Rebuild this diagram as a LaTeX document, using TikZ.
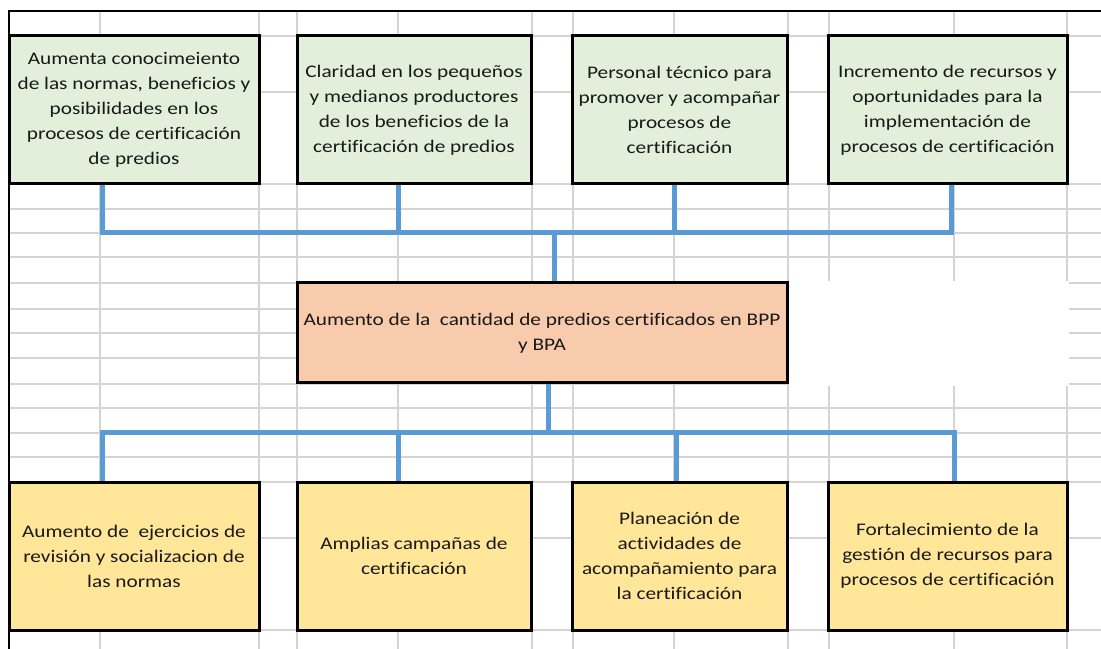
\documentclass[tikz,border=0pt]{standalone}
\usepackage{fontspec}
\setmainfont{Carlito}[FakeStretch=1.2, Ligatures=NoCommon]
\usetikzlibrary{backgrounds}

\definecolor{verde}{RGB}{226,239,218}
\definecolor{salmon}{RGB}{248,203,173}
\definecolor{amarillo}{RGB}{255,230,153}
\definecolor{azul}{RGB}{91,155,213}
\definecolor{gris}{RGB}{212,212,212}

\begin{document}
\begin{tikzpicture}[x=0.75pt, y=-0.75pt,
  every caja/.style={draw=black, line width=2.25pt, inner sep=0pt, outer sep=0pt,
    align=center, text=black!90, font=\fontsize{13.3pt}{18.75pt}\selectfont},
  caja fin/.style={fill=verde, minimum height=148*0.75pt},
  caja medio/.style={fill=amarillo, minimum height=148*0.75pt},
  caja objetivo/.style={fill=salmon, minimum height=100*0.75pt},
  enlace/.style={draw=azul, line width=3.75pt},
  rejilla/.style={draw=gris, line width=1.2pt},
  borde/.style={draw=black, line width=1.9pt}]

\useasboundingbox (0,0) rectangle (1101,649);

\foreach \texto/\cx/\w [count=\i] in {
    {Aumenta conocimeiento\\de las normas, beneficios y\\posibilidades en los\\procesos de certificación\\de predios}/134/250,
    {Claridad en los pequeños\\y medianos productores\\de los beneficios de la\\certificación de predios}/414/234,
    {Personal técnico para\\promover y acompañar\\procesos de\\certificación}/679.5/215,
    {Incremento de recursos y\\oportunidades para la\\implementación de\\procesos de certificación}/947.5/239}
  \node [every caja, caja fin, minimum width=\w*0.75pt] (fin-\i) at (\cx,110) {\texto};

\node [every caja, caja objetivo, minimum width=490*0.75pt] (objetivo) at (542,333)
  {Aumento de la~ cantidad de predios certificados en BPP\\y BPA};

\foreach \texto/\cx/\w [count=\i] in {
    {Aumento de~ ejercicios de\\revisión y socializacion de\\las normas}/134/250,
    {Amplias campañas de\\certificación}/414/234,
    {Planeación de\\actividades de\\acompañamiento para\\la certificación}/679.5/215,
    {Fortalecimiento de la\\gestión de recursos para\\procesos de certificación}/947.5/239}
  \node [every caja, caja medio, minimum width=\w*0.75pt] (medio-\i) at (\cx,556) {\texto};

\foreach \i/\x in {1/102,2/398,3/674,4/951}
  \coordinate (alto-\i) at (\x,233);
\foreach \i/\x in {1/102,2/398,3/676,4/954}
  \coordinate (bajo-\i) at (\x,432);
\coordinate (eje-alto) at (554,233);
\coordinate (eje-bajo) at (548,432);

\begin{pgfonlayer}{background}
% rejilla de la hoja
\foreach \x in {100,259,297,398,532,573,674,788,829,954,1067}
  \draw [rejilla] (\x,11) -- (\x,649);
\foreach \y in {36,92,184,209,233,257,283,309,333,358,384,408,433,457,482,538,630}
  \draw [rejilla] (9,\y) -- (1101,\y);
\fill [white] (789,281) rectangle (1068.5,386);
\draw [borde] (9,649) -- (9,11) -- (1101,11);

% conectores
\draw [enlace] (fin-1.south -| alto-1) -- (alto-1) -- (alto-4) -- (fin-4.south -| alto-4);
\foreach \i in {2,3}
  \draw [enlace] (fin-\i.south -| alto-\i) -- (alto-\i);
\draw [enlace] (eje-alto) -- (eje-alto |- objetivo.north);

\draw [enlace] (objetivo.south -| eje-bajo) -- (eje-bajo);
\draw [enlace] (medio-1.north -| bajo-1) -- (bajo-1) -- (bajo-4) -- (medio-4.north -| bajo-4);
\foreach \i in {2,3}
  \draw [enlace] (bajo-\i) -- (medio-\i.north -| bajo-\i);
\end{pgfonlayer}

\end{tikzpicture}
\end{document}
